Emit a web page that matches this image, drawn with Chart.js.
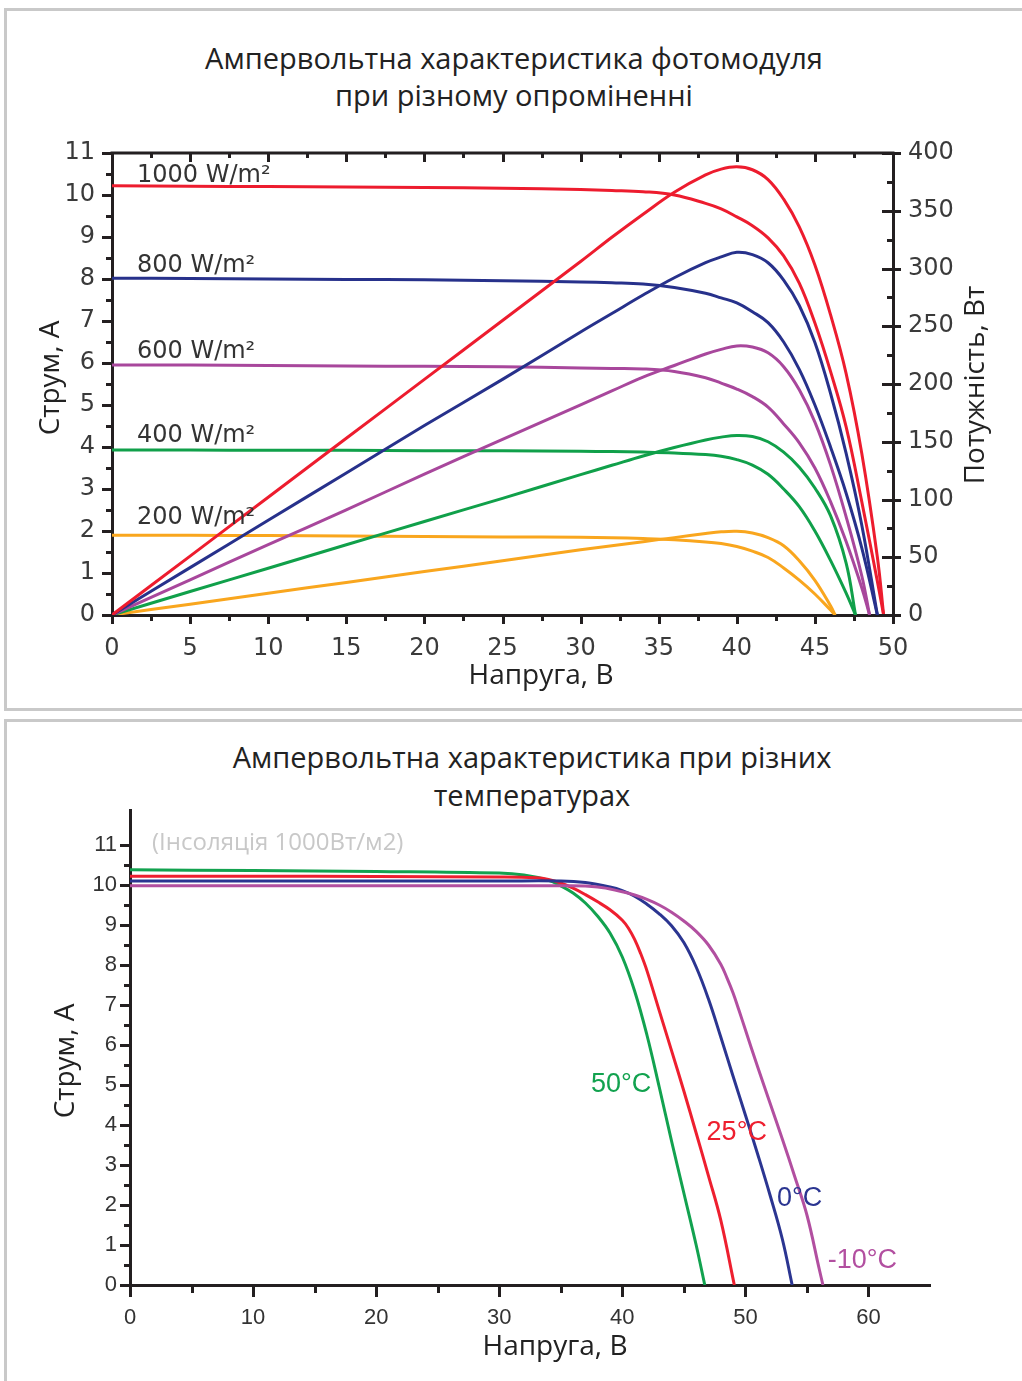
<!DOCTYPE html>
<html><head><meta charset="utf-8">
<script src="https://cdn.jsdelivr.net/npm/chart.js@4.4.1/dist/chart.umd.min.js"></script>
<style>
html,body{margin:0;padding:0;background:#fff;width:1022px;height:1381px;overflow:hidden;position:relative;font-family:'Open Sans',sans-serif;}
.panel{position:absolute;border:3px solid #c9c9c9;box-sizing:border-box;}
#p1{left:4px;top:8px;width:1040px;height:703px;}
#p2{left:4px;top:719px;width:1040px;height:700px;}
canvas{position:absolute;left:0;}
#c1{top:0;}
#c2{top:712px;}
.title{position:absolute;text-align:center;color:#222;font-size:29px;font-family:'Open Sans',sans-serif;}
#t1{left:0;width:1028px;top:39px;line-height:37px;}
#t2{left:0;width:1064px;top:738px;line-height:38px;}
#ins{position:absolute;left:152px;top:825px;font-size:24px;line-height:32px;color:#c8c8c8;font-family:'Open Sans',sans-serif;}
</style></head><body>
<div class="panel" id="p1"></div>
<div class="panel" id="p2"></div>
<div class="title" id="t1">Ампервольтна характеристика фотомодуля<br>при різному опроміненні</div>
<div class="title" id="t2">Ампервольтна характеристика при різних<br>температурах</div>
<canvas id="c1" width="1022" height="712"></canvas>
<canvas id="c2" width="1022" height="669"></canvas>
<div id="ins">(Інсоляція 1000Вт/м2)</div>
<script>
// ---------- Top chart: I-V and P-V at different irradiance ----------
const irrLabels = ['1000 W/m²', '800 W/m²', '600 W/m²', '400 W/m²', '200 W/m²'];
const irrLabelV = [1.6, 1.6, 1.6, 1.6, 1.6];
const irrLabelI = [10.45, 8.31, 6.26, 4.26, 2.31];

const vTop1000 = [0,5,10,15,20,25,30,32,34,36,38,39,40,41,42,43,44,45,46,47,48,49,49.4];
const iTop1000 = [10.22,10.21,10.2,10.19,10.18,10.16,10.13,10.11,10.08,10.0,9.8,9.67,9.48,9.27,8.98,8.55,7.9,6.95,5.8,4.48,2.7,0.8,0];
const pTop1000 = [0,51,102,153,204,255,306,327,347,366,381,386,388,385.5,377,360,336,303,260,209,140,50,0];

const vTop800 = [0,5,10,15,20,25,30,32,34,36,38,39,40,41,42,43,44,45,46,47,48,49];
const iTop800 = [8.02,8.01,8.0,7.99,7.98,7.96,7.93,7.91,7.88,7.8,7.66,7.55,7.43,7.22,6.96,6.5,5.85,5.0,4.0,2.9,1.6,0];
const pTop800 = [0,41,82,123,164,204,245,261,277,292,305,310,314,312,305,290,268,236,192,140,78,0];

const vTop600 = [0,5,10,15,20,25,30,32,34,36,38,39,40,41,42,43,44,45,46,47,48,48.5];
const iTop600 = [5.95,5.95,5.94,5.93,5.92,5.91,5.88,5.87,5.86,5.8,5.65,5.52,5.38,5.2,4.95,4.55,4.1,3.5,2.7,1.75,0.65,0];
const pTop600 = [0,30.5,61,91,122,152,182,194,206,216,226,230,233,232,227,215,195,167,130,85,34,0];

const vTop400 = [0,5,10,15,20,25,30,32,34,36,38,39,40,41,42,43,44,45,46,47,47.6];
const iTop400 = [3.93,3.93,3.92,3.92,3.91,3.91,3.9,3.89,3.88,3.86,3.82,3.78,3.7,3.57,3.35,3.0,2.58,2.0,1.3,0.52,0];
const pTop400 = [0,20.3,40.5,60.8,81,101,121.5,129.6,137.7,145,151.5,154,155.5,154.5,150,141,128,110,86,45,0];

const vTop200 = [0,5,10,15,20,25,30,32,34,36,38,39,40,41,42,43,44,45,46,46.3];
const iTop200 = [1.9,1.9,1.89,1.88,1.87,1.86,1.85,1.84,1.82,1.79,1.74,1.7,1.63,1.52,1.37,1.12,0.83,0.5,0.12,0];
const pTop200 = [0,9.4,18.8,28.2,37.6,47,56.4,60,63.5,67,70.5,72,72.5,71,67,60,47,30,8,0];

const topXMajor = [0,5,10,15,20,25,30,35,40,45,50];
const topXMinor = [2.5,7.5,12.5,17.5,22.5,27.5,32.5,37.5,42.5,47.5];
const topYMajor = [0,1,2,3,4,5,6,7,8,9,10,11];
const topYMinor = [0.5,1.5,2.5,3.5,4.5,5.5,6.5,7.5,8.5,9.5,10.5];
const topY2Major = [0,50,100,150,200,250,300,350,400];
const topY2Minor = [25,75,125,175,225,275,325,375];

// ---------- Bottom chart: I-V at different temperatures ----------
const tempLabels = ['50°C', '25°C', '0°C', '-10°C'];
const tempLabelV = [39.9, 49.3, 54.4, 59.5];
const tempLabelI = [5.0, 3.8, 2.17, 0.62];

const vT50 = [0,10,20,30,32,34,35,36,37,38,39,40,41,42,43,44,45,46,46.7];
const iT50 = [10.38,10.36,10.34,10.3,10.25,10.12,9.98,9.8,9.55,9.22,8.8,8.2,7.35,6.25,4.95,3.6,2.3,1.0,0];

const vT25 = [0,10,20,30,33,34,35,36,37,38,39,40,40.5,41,41.5,42,43,44,45,46,47,48,49.1];
const iT25 = [10.22,10.22,10.21,10.2,10.18,10.14,10.05,9.92,9.76,9.58,9.38,9.12,8.92,8.64,8.28,7.86,6.86,5.86,4.85,3.8,2.73,1.62,0];

const vT0 = [0,10,20,30,35,37,39,40,41,42,43,44,45,46,47,48,49,50,51,52,53,53.8];
const iT0 = [10.1,10.1,10.1,10.1,10.1,10.06,9.95,9.86,9.72,9.52,9.28,8.98,8.56,7.95,7.15,6.2,5.22,4.25,3.27,2.25,1.15,0];

const vTm10 = [0,10,20,30,35,38,40,41,42,43,44,45,46,47,48,48.5,49,49.5,50,51,52,53,54,55,56,56.3];
const iTm10 = [9.98,9.98,9.98,9.98,9.98,9.95,9.83,9.75,9.64,9.5,9.32,9.1,8.84,8.5,8.02,7.68,7.3,6.85,6.38,5.45,4.55,3.65,2.72,1.75,0.4,0];

const botXMajor = [0,10,20,30,40,50,60];
const botXMinor = [5,15,25,35,45,55];
const botYMajor = [0,1,2,3,4,5,6,7,8,9,10,11];
const botYMinor = [0.5,1.5,2.5,3.5,4.5,5.5,6.5,7.5,8.5,9.5,10.5];

// ---------- helpers ----------
const AXIS = '#231f20';
function pts(xs, ys){ return xs.map((x,k)=>({x:x, y:ys[k]})); }
function line(label, xs, ys, color, yAxis){
  return {label, data: pts(xs, ys), borderColor: color, backgroundColor: color, borderWidth: 3,
    pointRadius: 0, tension: 0.4, fill: false, yAxisID: yAxis || 'y'};
}

const decorPlugin = {
  id: 'decor',
  afterDraw(chart, args, o) {
    const ctx = chart.ctx, a = chart.chartArea;
    ctx.save();
    ctx.strokeStyle = AXIS; ctx.lineCap = 'butt';
    if (o.topBorder) {
      ctx.lineWidth = 3; ctx.beginPath();
      ctx.moveTo(a.left - 1.5, a.top); ctx.lineTo(a.right + 1.5, a.top); ctx.stroke();
    }
    (o.marks || []).forEach(m => {
      const s = chart.scales[m.scale];
      ctx.lineWidth = m.width || 3;
      m.values.forEach(v => {
        const p = Math.round(s.getPixelForValue(v)) + 0.5;
        const i = m.inner || 0, out = m.outer || 0;
        ctx.beginPath();
        if (m.side === 'left') { ctx.moveTo(a.left + i, p); ctx.lineTo(a.left - out, p); }
        else if (m.side === 'right') { ctx.moveTo(a.right - i, p); ctx.lineTo(a.right + out, p); }
        else if (m.side === 'bottom') { ctx.moveTo(p, a.bottom - i); ctx.lineTo(p, a.bottom + out); }
        else { ctx.moveTo(p, a.top + i); ctx.lineTo(p, a.top - out); }
        ctx.stroke();
      });
    });
    (o.texts || []).forEach(t => {
      ctx.font = t.font; ctx.fillStyle = t.color;
      ctx.textAlign = t.align || 'center'; ctx.textBaseline = 'middle';
      let x, y;
      if (t.data) {
        x = chart.scales[t.xScale || 'x'].getPixelForValue(t.data[0]);
        y = chart.scales[t.yScale || 'y'].getPixelForValue(t.data[1]);
      } else { x = t.px[0]; y = t.px[1]; }
      ctx.save(); ctx.translate(x, y); if (t.rot) ctx.rotate(t.rot);
      ctx.fillText(t.text, 0, 0); ctx.restore();
    });
    ctx.restore();
  }
};

function fixedTicks(arr){ return (axis) => { axis.ticks = arr.map(v => ({value: v})); }; }

// ---------- Chart 1 ----------
const topColors = ['#ed1c2e', '#27318b', '#a8479c', '#10a04a', '#f9a61e'];
const topV = [vTop1000, vTop800, vTop600, vTop400, vTop200];
const topI = [iTop1000, iTop800, iTop600, iTop400, iTop200];
const topP = [pTop1000, pTop800, pTop600, pTop400, pTop200];
const ds1 = [];
for (let k = 0; k < 5; k++) {
  ds1.push(line('P ' + irrLabels[k], topV[k], topP[k], topColors[k], 'y2'));
  ds1.push(line('I ' + irrLabels[k], topV[k], topI[k], topColors[k], 'y'));
}
const tickFontTop = {family: 'DejaVu Sans', size: 24};
const texts1 = irrLabels.map((t,k) => ({text: t, data: [irrLabelV[k], irrLabelI[k]], align: 'left',
  font: '24px "DejaVu Sans"', color: '#333'}));
texts1.push({text: 'Напруга, В', px: [541, 676], font: '28px "Open Sans"', color: '#222'});
texts1.push({text: 'Струм, А', px: [51, 378], rot: -Math.PI/2, font: '28px "Open Sans"', color: '#222'});
texts1.push({text: 'Потужність, Вт', px: [976, 385], rot: -Math.PI/2, font: '28px "Open Sans"', color: '#222'});

new Chart(document.getElementById('c1'), {
  type: 'line',
  data: {datasets: ds1},
  plugins: [decorPlugin],
  options: {
    responsive: false, animation: false, devicePixelRatio: 1,
    layout: {padding: {top: 153, left: 0, right: 0, bottom: 0}},
    plugins: {legend: {display: false}, tooltip: {enabled: false},
      decor: {topBorder: true, texts: texts1, marks: [
        {scale: 'y', values: topYMajor, side: 'left', outer: 10},
        {scale: 'y', values: topYMinor, side: 'left', outer: 6},
        {scale: 'x', values: topXMajor, side: 'bottom', outer: 9},
        {scale: 'x', values: topXMinor, side: 'bottom', outer: 6},
        {scale: 'x', values: topXMajor, side: 'top', inner: 9},
        {scale: 'x', values: topXMinor, side: 'top', inner: 5},
        {scale: 'y2', values: topY2Major, side: 'right', inner: 11, outer: 8},
        {scale: 'y2', values: topY2Minor, side: 'right', inner: 6}
      ]}},
    scales: {
      x: {type: 'linear', min: 0, max: 50, afterBuildTicks: fixedTicks(topXMajor),
        afterFit: s => { s.height = 97; },
        grid: {display: false, drawTicks: false}, border: {display: true, color: AXIS, width: 3},
        ticks: {padding: 19, color: '#3a3a3a', font: tickFontTop, autoSkip: false, maxRotation: 0}},
      y: {type: 'linear', position: 'left', min: 0, max: 11, afterBuildTicks: fixedTicks(topYMajor),
        afterFit: s => { s.width = 112; },
        grid: {display: false, drawTicks: false}, border: {display: true, color: AXIS, width: 3},
        ticks: {padding: 17, color: '#3a3a3a', font: tickFontTop, autoSkip: false}},
      y2: {type: 'linear', position: 'right', min: 0, max: 400, afterBuildTicks: fixedTicks(topY2Major),
        afterFit: s => { s.width = 129; },
        grid: {display: false, drawTicks: false}, border: {display: true, color: AXIS, width: 3},
        ticks: {padding: 15, color: '#3a3a3a', font: tickFontTop, autoSkip: false}}
    }
  }
});

// ---------- Chart 2 ----------
const botColors = ['#12a24f', '#ee1f2f', '#2b3591', '#b24fa0'];
const ds2 = [
  line(tempLabels[3], vTm10, iTm10, botColors[3]),
  line(tempLabels[2], vT0, iT0, botColors[2]),
  line(tempLabels[1], vT25, iT25, botColors[1]),
  line(tempLabels[0], vT50, iT50, botColors[0])
];
const texts2 = tempLabels.map((t,k) => ({text: t, data: [tempLabelV[k], tempLabelI[k]],
  font: '27px "Liberation Sans"', color: botColors[k]}));
texts2.push({text: 'Напруга, В', px: [555, 635], font: '28px "Open Sans"', color: '#222'});
texts2.push({text: 'Струм, А', px: [66, 349], rot: -Math.PI/2, font: '28px "Open Sans"', color: '#222'});
const tickFontBot = {family: 'Liberation Sans', size: 22};

new Chart(document.getElementById('c2'), {
  type: 'line',
  data: {datasets: ds2},
  plugins: [decorPlugin],
  options: {
    responsive: false, animation: false, devicePixelRatio: 1,
    layout: {padding: {top: 98, left: 0, right: 92, bottom: 0}},
    plugins: {legend: {display: false}, tooltip: {enabled: false},
      decor: {texts: texts2, marks: [
        {scale: 'y', values: botYMajor, side: 'left', outer: 10},
        {scale: 'y', values: botYMinor, side: 'left', outer: 6},
        {scale: 'x', values: botXMajor, side: 'bottom', outer: 12},
        {scale: 'x', values: botXMinor, side: 'bottom', outer: 8}
      ]}},
    scales: {
      x: {type: 'linear', min: 0, max: 65, afterBuildTicks: fixedTicks(botXMajor),
        afterFit: s => { s.height = 96; },
        grid: {display: false, drawTicks: false}, border: {display: true, color: AXIS, width: 3},
        ticks: {padding: 20, color: '#333', font: tickFontBot, autoSkip: false, maxRotation: 0}},
      y: {type: 'linear', position: 'left', min: 0, max: 11.875, afterBuildTicks: fixedTicks(botYMajor),
        afterFit: s => { s.width = 130; },
        grid: {display: false, drawTicks: false}, border: {display: true, color: AXIS, width: 3},
        ticks: {padding: 13, color: '#333', font: tickFontBot, autoSkip: false}}
    }
  }
});
</script>
</body></html>
